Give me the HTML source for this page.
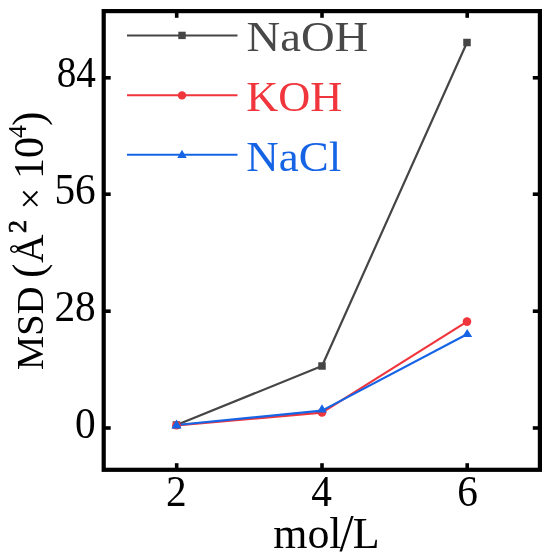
<!DOCTYPE html>
<html>
<head>
<meta charset="utf-8">
<style>
html,body{margin:0;padding:0;background:#fff;width:550px;height:559px;overflow:hidden;}
svg{display:block;}
text{font-family:"Liberation Serif","DejaVu Serif",serif;}
</style>
</head>
<body>
<svg width="550" height="559" viewBox="0 0 550 559">
<rect x="0" y="0" width="550" height="559" fill="#fff"/>
<g fill="none" stroke-width="2.2" stroke-linejoin="round">
<polyline points="176.5,425 322,366 467,42.5" stroke="#454545"/>
<polyline points="176.5,425.3 322,412.6 467,321.6" stroke="#F0353C"/>
<polyline points="176.5,425 322,410.6 467,334.3" stroke="#1664E6"/>
</g>
<rect x="172.75" y="421.25" width="7.5" height="7.5" fill="#454545"/>
<rect x="318.25" y="362.25" width="7.5" height="7.5" fill="#454545"/>
<rect x="463.25" y="38.75" width="7.5" height="7.5" fill="#454545"/>
<circle cx="176.5" cy="425.2" r="4.3" fill="#F0353C"/>
<circle cx="322" cy="412.5" r="4.3" fill="#F0353C"/>
<circle cx="467" cy="321.6" r="4.3" fill="#F0353C"/>
<polygon points="176.5,419.6 181.60,428.4 171.40,428.4" fill="#1664E6"/>
<polygon points="322,404.2 327.00,412.6 317.00,412.6" fill="#1664E6"/>
<polygon points="467.2,328.9 472.20,337.1 462.20,337.1" fill="#1664E6"/>
<g stroke-width="2">
<line x1="127" y1="35.5" x2="237.5" y2="35.5" stroke="#454545"/>
<line x1="127" y1="95.3" x2="237.5" y2="95.3" stroke="#F0353C"/>
<line x1="127" y1="154.7" x2="237.5" y2="154.7" stroke="#1664E6"/>
</g>
<rect x="178.30" y="31.70" width="7.4" height="7.4" fill="#454545"/>
<circle cx="182" cy="95.4" r="4.2" fill="#F0353C"/>
<polygon points="182,149.7 186.70,158 177.30,158" fill="#1664E6"/>
<text transform="translate(246.5,50.8) scale(1.111,1)" font-size="42" text-anchor="start" fill="#484848">NaOH</text>
<text transform="translate(246.3,111) scale(1.056,1)" font-size="42" text-anchor="start" fill="#F0353C">KOH</text>
<text transform="translate(246.3,170.6) scale(1.071,1)" font-size="42" text-anchor="start" fill="#1664E6">NaCl</text>
<rect x="103.7" y="11.1" width="436.2" height="458.7" fill="none" stroke="#000" stroke-width="4.2"/>
<g stroke="#000" stroke-width="3.6"><line x1="176.7" y1="469" x2="176.7" y2="463.2"/><line x1="176.7" y1="12" x2="176.7" y2="17.8"/><line x1="322" y1="469" x2="322" y2="463.2"/><line x1="322" y1="12" x2="322" y2="17.8"/><line x1="467.2" y1="469" x2="467.2" y2="463.2"/><line x1="467.2" y1="12" x2="467.2" y2="17.8"/><line x1="104.5" y1="428" x2="110.7" y2="428"/><line x1="539" y1="428" x2="532.8" y2="428"/><line x1="104.5" y1="311.2" x2="110.7" y2="311.2"/><line x1="539" y1="311.2" x2="532.8" y2="311.2"/><line x1="104.5" y1="194.2" x2="110.7" y2="194.2"/><line x1="539" y1="194.2" x2="532.8" y2="194.2"/><line x1="104.5" y1="77.8" x2="110.7" y2="77.8"/><line x1="539" y1="77.8" x2="532.8" y2="77.8"/></g>
<text transform="translate(95.8,437.8) scale(0.93,1)" font-size="44.5" text-anchor="end" fill="#000">0</text>
<text transform="translate(95.8,320.6) scale(0.93,1)" font-size="44.5" text-anchor="end" fill="#000">28</text>
<text transform="translate(95.8,203.6) scale(0.93,1)" font-size="44.5" text-anchor="end" fill="#000">56</text>
<text transform="translate(95.8,87) scale(0.88,1)" font-size="44.5" text-anchor="end" fill="#000">84</text>
<text transform="translate(176.3,505.8) scale(0.93,1)" font-size="44.5" text-anchor="middle" fill="#000">2</text>
<text transform="translate(321.7,505.8) scale(0.93,1)" font-size="44.5" text-anchor="middle" fill="#000">4</text>
<text transform="translate(467.6,505.8) scale(0.93,1)" font-size="44.5" text-anchor="middle" fill="#000">6</text>
<text transform="translate(273.2,547.5) scale(0.977,1)" font-size="45" text-anchor="start" fill="#000">mol<tspan font-size="52" dx="-2" dy="3.5">/</tspan><tspan dy="-3.5" dx="-1">L</tspan></text>
<g transform="translate(43,370) rotate(-90)" fill="#000"><text x="0" y="0" font-size="38.5" text-anchor="start">MSD</text><text x="92" y="0" font-size="43.5" text-anchor="start">(</text><text x="107" y="0" font-size="39.5" text-anchor="start">Å</text><text x="137" y="-17.4" font-size="26" text-anchor="start" stroke="#000" stroke-width="0.7">2</text><text x="160.5" y="0" font-size="38.5" text-anchor="start">×</text><text x="191" y="0" font-size="42" text-anchor="start">10</text><text x="232" y="-17.4" font-size="26" text-anchor="start">4</text><text x="244" y="0" font-size="43.5" text-anchor="start">)</text></g>
</svg>
</body>
</html>
